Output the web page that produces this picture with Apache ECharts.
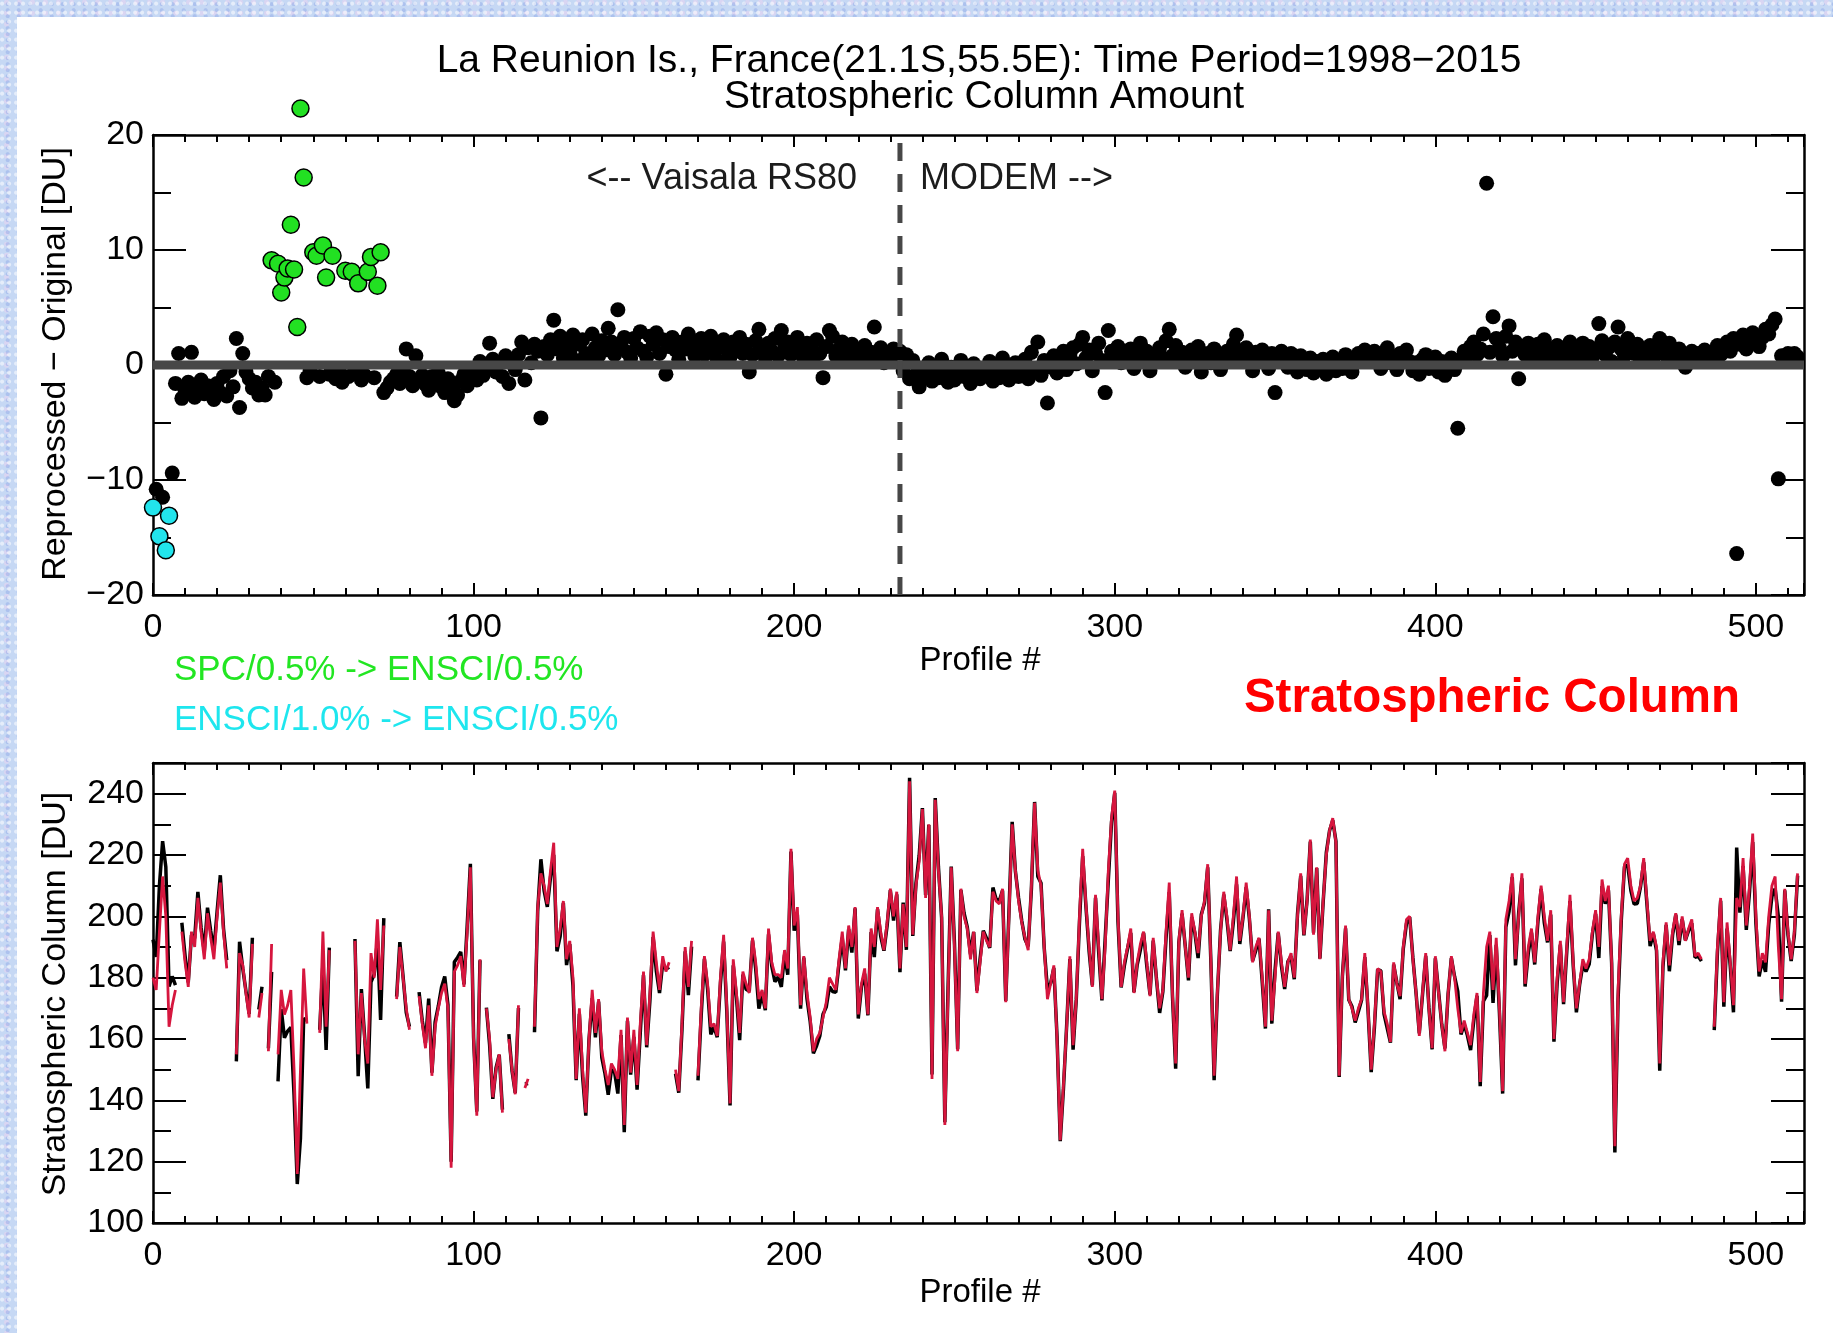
<!DOCTYPE html>
<html>
<head>
<meta charset="utf-8">
<script src="https://cdn.jsdelivr.net/npm/echarts@6/dist/echarts.min.js"></script>
<style>
html,body{margin:0;padding:0;width:1833px;height:1333px;overflow:hidden;}
body{
  background-color:#c6d8f4;
  background-image:
    radial-gradient(circle at 30% 40%, rgba(255,255,255,0.55) 0 1.5px, transparent 2.5px),
    radial-gradient(circle at 70% 70%, rgba(140,165,230,0.45) 0 1.5px, transparent 2.5px),
    radial-gradient(circle at 50% 20%, rgba(235,210,240,0.5) 0 2px, transparent 3px);
  background-size:7px 9px, 11px 6px, 13px 11px;
}
#panel{position:absolute;left:17px;top:17px;right:0;bottom:0;background:#fff;}
#chart{position:absolute;left:0;top:0;width:1833px;height:1333px;}
</style>
</head>
<body>
<div id="panel"></div>
<div id="chart"></div>
<script>
// ---------------- DATA ----------------
// Axis tick labels
const xTicks = [0, 100, 200, 300, 400, 500];
const diffTicks = [-20, -10, 0, 10, 20];
const columnTicks = [100, 120, 140, 160, 180, 200, 220, 240];
const instrumentChangeProfile = 233;   // Vaisala RS80 -> MODEM

// Reprocessed - Original stratospheric column [DU], index = profile #
const diffAll = [
-12.4,-10.8,-14.9,-11.5,-16.1,-13.1,-9.4,-1.6,1.0,-2.9,
-2.2,-1.5,1.1,-2.8,-2.0,-1.3,-2.5,-1.8,-2.2,-3.0,
-1.6,-2.4,-1.0,-2.7,-0.5,-1.9,2.3,-3.7,1.0,-0.6,
-1.2,-2.0,-1.5,-2.6,-2.0,-2.6,-1.0,9.1,-1.5,8.8,
6.3,7.6,8.4,12.2,8.3,3.3,22.3,16.3,-1.1,-0.5,
9.8,9.5,-1.0,10.4,7.6,-0.8,9.5,-1.2,-0.5,-1.5,
8.2,-1.0,8.1,-0.6,7.1,-1.3,-0.9,8.1,9.4,-1.1,
6.9,9.8,-2.4,-2.0,-1.5,-1.2,-0.8,-1.6,-0.4,1.4,
-1.0,-1.8,0.8,-1.3,-0.9,-1.7,-2.2,-1.0,-1.5,-0.7,
-1.9,-2.4,-1.2,-2.0,-3.1,-2.6,-1.4,-0.8,-1.8,-1.1,
-0.5,-1.3,0.3,-0.9,-0.2,1.9,0.5,-0.6,0.2,-1.0,
0.8,-1.6,0.4,-0.4,0.9,2.0,-1.3,1.5,0.2,1.8,
1.2,-4.6,1.6,0.9,2.2,3.9,1.4,2.5,0.6,1.9,
1.1,2.6,0.4,1.8,2.2,1.0,0.3,2.7,1.5,0.8,
2.1,1.3,3.2,2.0,0.9,4.8,1.7,2.4,1.1,0.6,
2.3,1.5,2.9,1.2,0.7,2.5,1.8,2.8,1.0,2.2,
-0.8,1.6,2.4,1.3,0.5,2.0,1.4,2.7,1.9,0.8,
1.5,2.3,0.9,1.7,2.5,1.1,0.4,1.9,2.2,1.3,
0.7,2.0,1.5,2.4,1.0,1.8,-0.6,0.9,2.1,3.1,
1.4,0.6,1.9,1.2,2.3,0.8,3.0,1.5,2.0,0.9,
1.7,2.4,1.1,0.5,1.9,1.3,0.7,2.2,1.0,-1.1,
1.6,3.0,2.5,0.8,1.4,2.0,0.6,1.2,1.8,0.4,
1.3,0.9,1.7,0.3,1.1,3.3,0.7,1.5,0.2,1.0,
0.5,1.4,0.8,1.2,-0.5,0.9,-1.2,0.4,-0.8,-1.9,
-0.3,-1.0,0.2,-1.4,-0.6,-1.1,0.5,-0.9,-1.5,-0.2,
-1.3,-0.7,0.4,-1.0,-0.5,-1.6,0.1,-0.8,-1.2,-0.3,
-0.9,0.3,-1.4,-0.6,-1.1,0.6,-0.4,-1.3,-0.8,0.2,
-1.0,-0.5,0.5,-1.2,1.1,-0.3,2.0,-0.9,0.4,-3.3,
-0.2,0.8,-0.7,0.3,1.2,-0.4,0.9,1.5,0.1,1.8,
2.4,0.6,1.3,-0.5,1.0,1.9,0.4,-2.4,3.0,1.2,
0.7,1.6,0.2,1.1,0.5,1.4,-0.3,0.8,1.9,0.4,
1.2,-0.5,0.9,0.3,1.5,0.6,2.1,3.1,0.8,1.7,
0.4,1.1,-0.2,0.9,1.3,0.5,1.6,-0.6,0.7,1.0,
0.2,1.4,0.6,-0.4,0.9,1.2,0.3,1.8,2.6,1.0,
0.5,1.5,0.8,-0.5,1.1,0.3,1.3,0.6,-0.3,1.0,
-2.4,0.4,1.2,0.7,-0.2,1.0,0.5,-0.6,0.8,0.2,
-0.4,0.6,-0.7,0.3,-0.2,0.5,-0.8,0.1,0.7,-0.5,
0.4,-0.3,0.9,0.2,-0.6,0.6,1.0,0.3,1.3,0.5,
0.8,1.2,0.4,-0.3,0.9,1.5,0.2,0.7,-0.4,1.0,
0.6,1.3,0.3,-0.5,0.2,-0.8,0.5,0.9,-0.3,0.4,
0.7,-0.6,0.3,-0.9,0.1,0.6,-0.4,-5.5,0.5,1.2,
0.8,1.6,2.0,0.9,1.4,2.7,15.8,1.1,4.2,2.3,
1.5,0.8,2.5,3.4,1.2,2.0,-1.2,1.6,0.9,1.9,
1.3,0.7,1.8,1.1,2.2,0.5,1.4,0.9,1.7,1.2,
0.6,1.5,2.0,0.8,1.3,0.4,1.9,1.0,1.6,0.7,
1.2,3.6,2.1,0.9,1.5,0.3,2.0,3.3,1.4,0.8,
2.3,1.6,1.0,1.8,0.4,1.3,0.9,1.7,0.6,1.2,
2.3,1.5,0.8,1.9,1.1,0.5,1.4,0.9,-0.2,0.7,
1.2,0.4,1.0,0.6,1.3,0.8,0.3,1.1,1.7,0.9,
1.5,2.0,1.2,2.3,-16.4,1.8,2.6,1.4,2.1,2.8,
2.2,1.6,2.4,3.1,2.7,3.5,4.0,-9.9,0.8,0.5,
1.0,0.6,1.0,0.7
];

// Profiles whose sonde type changed (coloured dots)
const greenProfiles = [37,39,40,41,42,43,44,45,46,47,50,51,53,54,56,60,62,64,67,68,70,71]; // SPC/0.5% -> ENSCI/0.5%
const cyanProfiles  = [0,2,4,5];                                                       // ENSCI/1.0% -> ENSCI/0.5%

// Reprocessed stratospheric column [DU], index = profile # (null = missing)
const stratColRepro = [
180,176,195,213,200,164,171,176,null,195,
185,177,195,190,206,195,186,201,193,186,
200,211,195,183,null,null,155,188,184,175,
167,191,null,167,175,null,156,191,null,155,
176,168,171,176,150,116,150,183,165,null,
null,null,162,195,164,189,null,null,null,null,
null,null,null,192,155,175,160,152,188,180,
199,176,197,null,null,null,173,190,180,170,
163,null,null,174,165,157,171,148,164,170,
175,178,170,118,182,184,187,177,195,216,
160,135,186,null,170,160,141,150,155,136,
null,160,150,142,171,null,144,147,null,164,
203,214,210,204,215,224,190,196,205,186,
192,180,147,170,150,136,160,176,162,173,
156,150,145,152,150,147,163,132,167,149,
163,145,165,182,158,175,195,185,176,187,
182,185,null,150,143,165,190,177,192,null,
148,170,187,178,164,165,161,180,194,170,
139,186,175,162,182,178,175,193,185,173,
176,170,196,185,181,181,180,189,183,222,
197,203,171,187,175,167,156,160,162,167,
172,180,178,176,186,195,183,197,190,203,
168,178,183,168,196,190,203,195,189,198,
209,200,208,183,204,190,244,194,210,218,
235,206,230,147,238,215,200,132,175,216,
190,156,209,200,196,186,195,175,185,195,
192,190,208,205,204,209,172,200,230,215,
205,198,193,189,210,237,215,210,190,173,
178,184,160,127,145,164,187,158,173,200,
222,204,190,177,207,190,173,190,215,232,
241,200,177,185,190,196,175,185,191,195,
185,174,193,180,170,176,195,211,175,152,
192,202,190,180,201,195,188,200,205,217,
185,148,175,195,208,200,189,200,213,192,
200,211,200,185,190,193,180,164,202,166,
180,195,185,177,185,188,180,200,214,194,
205,225,194,216,186,205,220,228,232,224,
148,180,197,173,170,166,170,173,188,170,
150,165,183,182,169,165,159,185,178,174,
190,199,200,186,175,161,175,188,170,157,
187,175,165,156,175,187,180,170,162,166,
162,158,168,175,146,175,190,195,176,193,
170,143,199,205,214,186,200,214,178,190,
196,185,200,210,200,192,202,160,180,192,
172,190,207,185,170,178,186,183,186,195,
202,190,212,205,210,185,125,176,200,217,
219,210,205,206,210,219,205,192,195,190,
152,185,198,184,195,201,192,200,192,196,
199,187,188,186,null,null,null,164,190,206,
172,198,185,171,206,203,219,197,210,227,
200,182,188,185,200,210,213,190,173,209,
195,186,195,214
];

// ---------------- BUILD ----------------
const X_MAX = 515;
const greenSet = new Set(greenProfiles), cyanSet = new Set(cyanProfiles);
const blackPts = [], greenPts = [], cyanPts = [];
diffAll.forEach((v, i) => {
  const p = [i, v];
  if (greenSet.has(i)) greenPts.push(p);
  else if (cyanSet.has(i)) cyanPts.push(p);
  else blackPts.push(p);
});
const reproLine = stratColRepro.map((v, i) => [i, v == null ? '-' : v]);
const origLine = stratColRepro.map((v, i) => [i, v == null ? '-' : +(v - diffAll[i]).toFixed(1)]);

const FONT = "'Liberation Sans',Arial,sans-serif";
const AX_FS = 34;

function tickStyle(len, w) {
  return {show: true, inside: true, length: len, lineStyle: {color: '#000', width: w}};
}
function xAx(grid, pos, interval, tickLen, major, labels) {
  return {
    type: 'value', gridIndex: grid, position: pos, min: 0, max: X_MAX, interval: interval,
    axisLine: {show: major, onZero: false, lineStyle: {color: '#000', width: 2.5}},
    axisTick: tickStyle(tickLen, 2),
    axisLabel: labels ? {show: true, margin: 16, fontSize: AX_FS, fontFamily: FONT, color: '#000',
      customValues: xTicks} : {show: false},
    splitLine: {show: false}
  };
}
function yAx(grid, pos, min, max, interval, tickLen, major, labels, ticks) {
  return {
    type: 'value', gridIndex: grid, position: pos, min: min, max: max, interval: interval,
    axisLine: {show: major, onZero: false, lineStyle: {color: '#000', width: 2.5}},
    axisTick: tickStyle(tickLen, 2),
    axisLabel: labels ? {show: true, margin: 9, fontSize: AX_FS, fontFamily: FONT, color: '#000',
      customValues: ticks,
      formatter: v => String(v).replace('-', '\u2212')} : {show: false},
    splitLine: {show: false}
  };
}

const option = {
  animation: false,
  grid: [
    {left: 153, top: 135, width: 1651, height: 460},
    {left: 153, top: 763, width: 1651, height: 460}
  ],
  xAxis: [
    xAx(0, 'bottom', 100, 12, true, true),
    xAx(0, 'bottom', 10, 7, false, false),
    xAx(0, 'top', 100, 12, true, false),
    xAx(0, 'top', 10, 7, false, false),
    xAx(1, 'bottom', 100, 12, true, true),
    xAx(1, 'bottom', 10, 7, false, false),
    xAx(1, 'top', 100, 12, true, false),
    xAx(1, 'top', 10, 7, false, false)
  ],
  yAxis: [
    yAx(0, 'left', -20, 20, 10, 33, true, true, diffTicks),
    yAx(0, 'left', -20, 20, 5, 18, false, false),
    yAx(0, 'right', -20, 20, 10, 33, true, false),
    yAx(0, 'right', -20, 20, 5, 18, false, false),
    yAx(1, 'left', 100, 250, 20, 33, true, true, columnTicks),
    yAx(1, 'left', 100, 250, 10, 18, false, false),
    yAx(1, 'right', 100, 250, 20, 33, true, false),
    yAx(1, 'right', 100, 250, 10, 18, false, false)
  ],
  series: [
    {type: 'scatter', xAxisIndex: 0, yAxisIndex: 0, data: blackPts, symbolSize: 15,
     itemStyle: {color: '#000', opacity: 1}, z: 2},
    {type: 'line', xAxisIndex: 0, yAxisIndex: 0, data: [[0, 0], [X_MAX, 0]], symbol: 'none',
     lineStyle: {color: '#474747', width: 9}, z: 3, silent: true},
    {type: 'line', xAxisIndex: 0, yAxisIndex: 0,
     data: [[instrumentChangeProfile, -20], [instrumentChangeProfile, 20]], symbol: 'none',
     lineStyle: {color: '#474747', width: 5, type: [18, 13]}, z: 3, silent: true},
    {type: 'scatter', xAxisIndex: 0, yAxisIndex: 0, data: greenPts, symbolSize: 17, clip: false,
     itemStyle: {color: '#22e022', borderColor: '#000', borderWidth: 1.5, opacity: 1}, z: 4},
    {type: 'scatter', xAxisIndex: 0, yAxisIndex: 0, data: cyanPts, symbolSize: 17, clip: false,
     itemStyle: {color: '#22e4ec', borderColor: '#000', borderWidth: 1.5, opacity: 1}, z: 4},
    {type: 'line', xAxisIndex: 4, yAxisIndex: 4, data: origLine, symbol: 'none', connectNulls: false,
     lineStyle: {color: '#000', width: 3.5}, z: 2},
    {type: 'line', xAxisIndex: 4, yAxisIndex: 4, data: reproLine, symbol: 'none', connectNulls: false,
     lineStyle: {color: '#d6163e', width: 2.8}, z: 3}
  ],
  graphic: [
    {type: 'text', x: 979, y: 61, style: {text: 'La Reunion Is., France(21.1S,55.5E): Time Period=1998\u22122015',
      fontSize: 39, fontFamily: FONT, fill: '#000', align: 'center', verticalAlign: 'middle'}},
    {type: 'text', x: 984, y: 97, style: {text: 'Stratospheric Column Amount',
      fontSize: 39, fontFamily: FONT, fill: '#000', align: 'center', verticalAlign: 'middle'}},
    {type: 'text', x: 857, y: 179, z: 10, style: {text: '<-- Vaisala RS80',
      fontSize: 36, fontFamily: FONT, fill: '#1c1c1c', align: 'right', verticalAlign: 'middle'}},
    {type: 'text', x: 920, y: 179, z: 10, style: {text: 'MODEM -->',
      fontSize: 36, fontFamily: FONT, fill: '#1c1c1c', align: 'left', verticalAlign: 'middle'}},
    {type: 'text', x: 56, y: 364, rotation: Math.PI / 2, style: {text: 'Reprocessed \u2212 Original [DU]',
      fontSize: 34, fontFamily: FONT, fill: '#000', align: 'center', verticalAlign: 'middle'}},
    {type: 'text', x: 56, y: 994, rotation: Math.PI / 2, style: {text: 'Stratospheric Column [DU]',
      fontSize: 34, fontFamily: FONT, fill: '#000', align: 'center', verticalAlign: 'middle'}},
    {type: 'text', x: 980, y: 661, style: {text: 'Profile #',
      fontSize: 33, fontFamily: FONT, fill: '#000', align: 'center', verticalAlign: 'middle'}},
    {type: 'text', x: 980, y: 1293, style: {text: 'Profile #',
      fontSize: 33, fontFamily: FONT, fill: '#000', align: 'center', verticalAlign: 'middle'}},
    {type: 'text', x: 174, y: 670, style: {text: 'SPC/0.5% -> ENSCI/0.5%',
      fontSize: 35, fontFamily: FONT, fill: '#22e622', align: 'left', verticalAlign: 'middle'}},
    {type: 'text', x: 174, y: 720, style: {text: 'ENSCI/1.0% -> ENSCI/0.5%',
      fontSize: 35, fontFamily: FONT, fill: '#1ee6ee', align: 'left', verticalAlign: 'middle'}},
    {type: 'text', x: 1492, y: 699, style: {text: 'Stratospheric Column',
      fontSize: 47.5, fontWeight: 'bold', fontFamily: FONT, fill: '#ff0000', align: 'center', verticalAlign: 'middle'}}
  ]
};

const chart = echarts.init(document.getElementById('chart'), null, {renderer: 'canvas'});
chart.setOption(option);
</script>
</body>
</html>
